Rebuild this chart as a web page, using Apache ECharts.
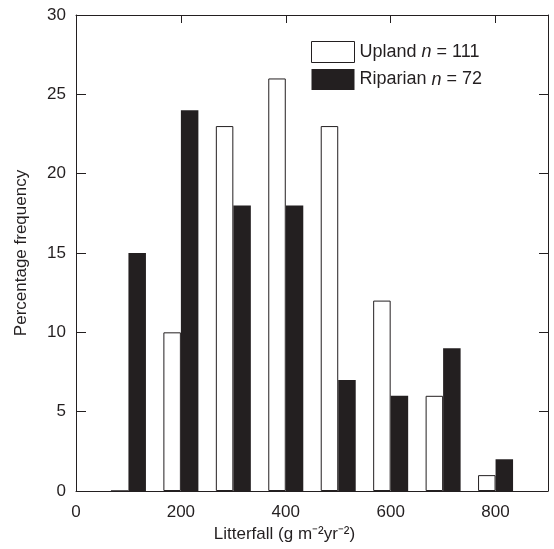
<!DOCTYPE html>
<html>
<head>
<meta charset="utf-8">
<script src="https://cdn.jsdelivr.net/npm/echarts@6/dist/echarts.min.js"></script>
<style>
html, body { margin: 0; padding: 0; background: #fff; }
#chart-panel { width: 554px; height: 549px; }
</style>
</head>
<body>
<div id="chart-panel"></div>
<script>
// bin centres (g m-2 yr-2) and percentage frequency per bin
var binCentres = [100, 200, 300, 400, 500, 600, 700, 800];
var uplandPct = [0, 10, 23, 26, 23, 12, 6, 1];
var riparianPct = [15, 24, 18, 18, 7, 6, 9, 2];
var seriesNames = ['Upland', 'Riparian'];
var sampleSizes = [111, 72];

var myChart = echarts.init(document.getElementById('chart-panel'));
var font = 'Liberation Sans, Arial, sans-serif';
var ink = '#231f20';

function pairs(vals) {
    return binCentres.map(function (x, i) { return [x, vals[i]]; });
}

myChart.setOption({
    backgroundColor: '#fff',
    animation: false,
    textStyle: { fontFamily: font },
    grid: { left: 76, top: 15, right: 6, bottom: 58, outerBoundsMode: 'none', containLabel: false },
    legend: {
        orient: 'vertical',
        left: 306,
        top: 36,
        itemWidth: 43,
        itemHeight: 21,
        itemGap: 6,
        selectedMode: false,
        data: [
            { name: 'Upland', icon: 'rect', itemStyle: { color: '#fff', borderColor: ink, borderWidth: 1 } },
            { name: 'Riparian', icon: 'rect', itemStyle: { color: ink, borderWidth: 0 } }
        ],
        formatter: function (name) {
            var n = sampleSizes[seriesNames.indexOf(name)];
            return '{a|' + name + ' }{i|n}{a| = ' + n + '}';
        },
        textStyle: {
            rich: {
                a: { fontSize: 18, color: ink, fontFamily: font },
                i: { fontSize: 18, color: ink, fontFamily: font, fontStyle: 'italic' }
            }
        }
    },
    xAxis: [{
        type: 'value',
        min: 0, max: 900, interval: 200,
        position: 'bottom',
        name: 'Litterfall (g m\u207B\u00B2yr\u207B\u00B2)',
        nameLocation: 'middle',
        nameGap: 34,
        nameTextStyle: { fontSize: 17, color: ink, padding: [0, 55, 0, 0] },
        axisLine: { show: true, onZero: false, lineStyle: { color: ink, width: 1 } },
        axisTick: { show: false },
        axisLabel: { fontSize: 17, color: ink, margin: 13, showMaxLabel: false },
        splitLine: { show: false }
    }, {
        type: 'value',
        min: 0, max: 900, interval: 200,
        position: 'top',
        axisLine: { show: true, onZero: false, lineStyle: { color: ink, width: 1 } },
        axisTick: { show: true, inside: true, length: 8, lineStyle: { color: ink } },
        axisLabel: { show: false },
        splitLine: { show: false }
    }],
    yAxis: [{
        type: 'value',
        min: 0, max: 30, interval: 5,
        position: 'left',
        name: 'Percentage frequency',
        nameLocation: 'middle',
        nameGap: 46,
        nameTextStyle: { fontSize: 17, color: ink },
        axisLine: { show: true, onZero: false, lineStyle: { color: ink, width: 1 } },
        axisTick: { show: true, inside: true, length: 10, lineStyle: { color: ink } },
        axisLabel: { fontSize: 17, color: ink, margin: 10 },
        splitLine: { show: false }
    }, {
        type: 'value',
        min: 0, max: 30, interval: 5,
        position: 'right',
        axisLine: { show: true, onZero: false, lineStyle: { color: ink, width: 1 } },
        axisTick: { show: true, inside: true, length: 9, lineStyle: { color: ink } },
        axisLabel: { show: false },
        splitLine: { show: false }
    }],
    series: [{
        name: 'Upland',
        type: 'bar',
        barWidth: 17.5,
        barGap: '0%',
        itemStyle: { color: '#fff', borderColor: ink, borderWidth: 1 },
        data: pairs(uplandPct)
    }, {
        name: 'Riparian',
        type: 'bar',
        barWidth: 17.5,
        barGap: '0%',
        itemStyle: { color: ink },
        data: pairs(riparianPct)
    }]
});
</script>
</body>
</html>
